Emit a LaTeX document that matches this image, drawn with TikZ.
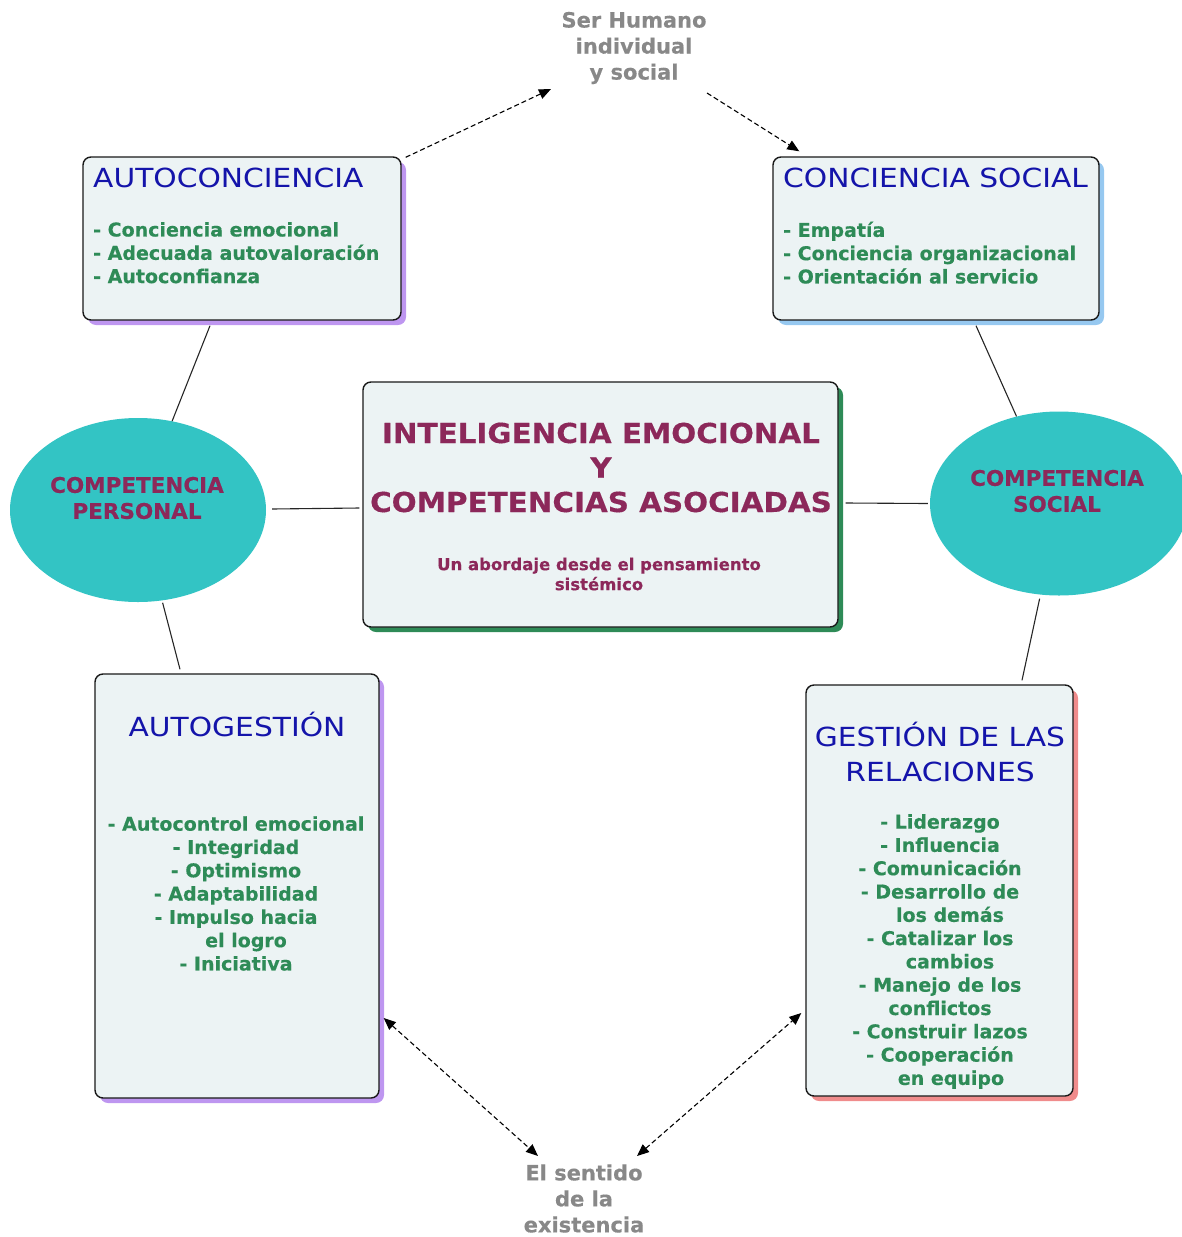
\documentclass[tikz,border=0pt]{standalone}
\usepackage{fontspec}
\setmainfont{DejaVu Sans}[BoldFeatures={FakeBold=0.4}]
\newfontfamily\titlefont[FakeStretch=1.13]{DejaVu Sans}
\newfontfamily\headfont[FakeStretch=1.07,BoldFeatures={FakeBold=0.4}]{DejaVu Sans}
\usetikzlibrary{shadows,arrows.meta,shapes.geometric}
\definecolor{ttlblue}{RGB}{20,20,170}
\definecolor{lgreen}{RGB}{46,139,87}
\definecolor{maroon}{RGB}{140,40,90}
\definecolor{greytxt}{RGB}{136,136,136}
\definecolor{boxfill}{RGB}{236,243,244}
\definecolor{tealfill}{RGB}{51,196,196}
\definecolor{shpurple}{RGB}{190,150,240}
\definecolor{shblue}{RGB}{150,200,240}
\definecolor{shgreen}{RGB}{46,139,87}
\definecolor{shpink}{RGB}{240,140,140}
\begin{document}
\begin{tikzpicture}[x=1pt,y=-1pt,
  box/.style={draw=black!90, line width=1.4pt, rounded corners=8pt, fill=boxfill, inner sep=0pt},
  shd/.style={drop shadow={shadow xshift=5pt, shadow yshift=-5pt, fill=#1, opacity=1}},
  ell/.style={ellipse, fill=tealfill, draw=none, inner sep=0pt},
  ttl/.style={text=ttlblue, font=\titlefont\fontsize{26.3}{35}\selectfont, inner sep=0pt},
  lst/.style={text=lgreen, font=\bfseries\fontsize{19}{23.3}\selectfont, inner sep=0pt},
  ctxt/.style={text=maroon, font=\bfseries\fontsize{21.5}{26}\selectfont, inner sep=0pt, align=center},
  gtxt/.style={text=greytxt, font=\bfseries\fontsize{21}{26}\selectfont, inner sep=0pt, align=center},
  conn/.style={line width=1.1pt, black!85},
  darr/.style={line width=1.1pt, dash pattern=on 5pt off 3pt, -{Triangle[length=12pt,width=10pt]}},
  darrb/.style={line width=1.1pt, dash pattern=on 5pt off 3pt, {Triangle[length=12pt,width=10pt]}-{Triangle[length=12pt,width=10pt]}}
]
\useasboundingbox (0,0) rectangle (1182,1237);

% boxes
\node[box, shd=shpurple, minimum width=318pt, minimum height=163pt] (ac) at (242,238.5) {};
\node[box, shd=shblue, minimum width=326pt, minimum height=163pt] (cs) at (936,238.5) {};
\node[box, shd=shgreen, minimum width=475pt, minimum height=245pt] (ie) at (600.5,504.5) {};
\node[box, shd=shpurple, minimum width=284pt, minimum height=424pt] (ag) at (237,886) {};
\node[box, shd=shpink, minimum width=267pt, minimum height=411pt] (gr) at (939.5,890.5) {};

% ellipses
\node[ell, minimum width=256pt, minimum height=184pt] (lp) at (138,510) {};
\node[ell, minimum width=258pt, minimum height=184pt] (rp) at (1059,503.5) {};

% texts
\node[ttl, anchor=west] (acT) at (93,178) {AUTOCONCIENCIA};
\node[lst, anchor=west, align=left] (acL) at (93,252.7) {- Conciencia emocional\\- Adecuada autovaloración\\- Autoconfianza};
\node[ttl, anchor=west] (csT) at (783,178) {CONCIENCIA SOCIAL};
\node[lst, anchor=west, align=left] (csL) at (783,252.7) {- Empatía\\- Conciencia organizacional\\- Orientación al servicio};
\node[ttl] (agT) at (237,724) {AUTOGESTIÓN};
\node[lst, align=center] (agL) at (236,893.5) {- Autocontrol emocional\\- Integridad\\- Optimismo\\- Adaptabilidad\\- Impulso hacia\\\hspace*{20pt}el logro\\- Iniciativa};
\node[ttl, align=center] (grT) at (940,752) {GESTIÓN DE LAS\\RELACIONES};
\node[lst, align=center] (grL) at (940,951.5) {- Liderazgo\\- Influencia\\- Comunicación\\- Desarrollo de\\\hspace*{20pt}los demás\\- Catalizar los\\\hspace*{20pt}cambios\\- Manejo de los\\conflictos\\- Construir lazos\\- Cooperación\\\hspace*{22pt}en equipo};
\node[text=maroon, font=\headfont\bfseries\fontsize{27.5}{34.5}\selectfont, inner sep=0pt, align=center] (ieT) at (601,467.5) {INTELIGENCIA EMOCIONAL\\Y\\COMPETENCIAS ASOCIADAS};
\node[text=maroon, font=\bfseries\fontsize{16.5}{20}\selectfont, inner sep=0pt, align=center] (ieS) at (599,574) {Un abordaje desde el pensamiento\\sistémico};
\node[ctxt] (lpT) at (137,498) {COMPETENCIA\\PERSONAL};
\node[ctxt] (rpT) at (1057,491) {COMPETENCIA\\SOCIAL};
\node[gtxt] (sh) at (634,48) {Ser Humano\\individual\\y social};
\node[gtxt] (ex) at (584,1198.5) {El sentido\\de la\\existencia};

% solid connectors
\draw[conn] ([xshift=-32pt,yshift=-5pt]ac.south) -- (lp.69);
\draw[conn] ([xshift=2pt,yshift=-2pt]lp.-76) -- ([xshift=-57pt,yshift=4pt]ag.north);
\draw[conn] ([xshift=6pt,yshift=1pt]lp.east) -- ([xshift=-3pt,yshift=-3.5pt]ie.west);
\draw[conn] ([xshift=7pt,yshift=1.5pt]ie.east) -- ([xshift=-2pt]rp.west);
\draw[conn] ([xshift=40pt,yshift=-5pt]cs.south) -- (rp.116);
\draw[conn] ([yshift=-4pt]rp.-102) -- ([xshift=82.5pt,yshift=4pt]gr.north);

% dashed arrows
\draw[darr] ([xshift=4pt,yshift=-1pt]ac.north east) -- ([xshift=-83pt,yshift=-41pt]sh.center);
\draw[darr] ([xshift=73pt,yshift=-45pt]sh.center) -- ([xshift=27pt,yshift=5pt]cs.north west);
\draw[darrb] ([xshift=4pt,yshift=-132pt]ag.east) -- ([xshift=-46pt,yshift=42.5pt]ex.center);
\draw[darrb] ([xshift=53pt,yshift=42.5pt]ex.center) -- ([xshift=-4pt,yshift=-122.5pt]gr.west);
\end{tikzpicture}
\end{document}
